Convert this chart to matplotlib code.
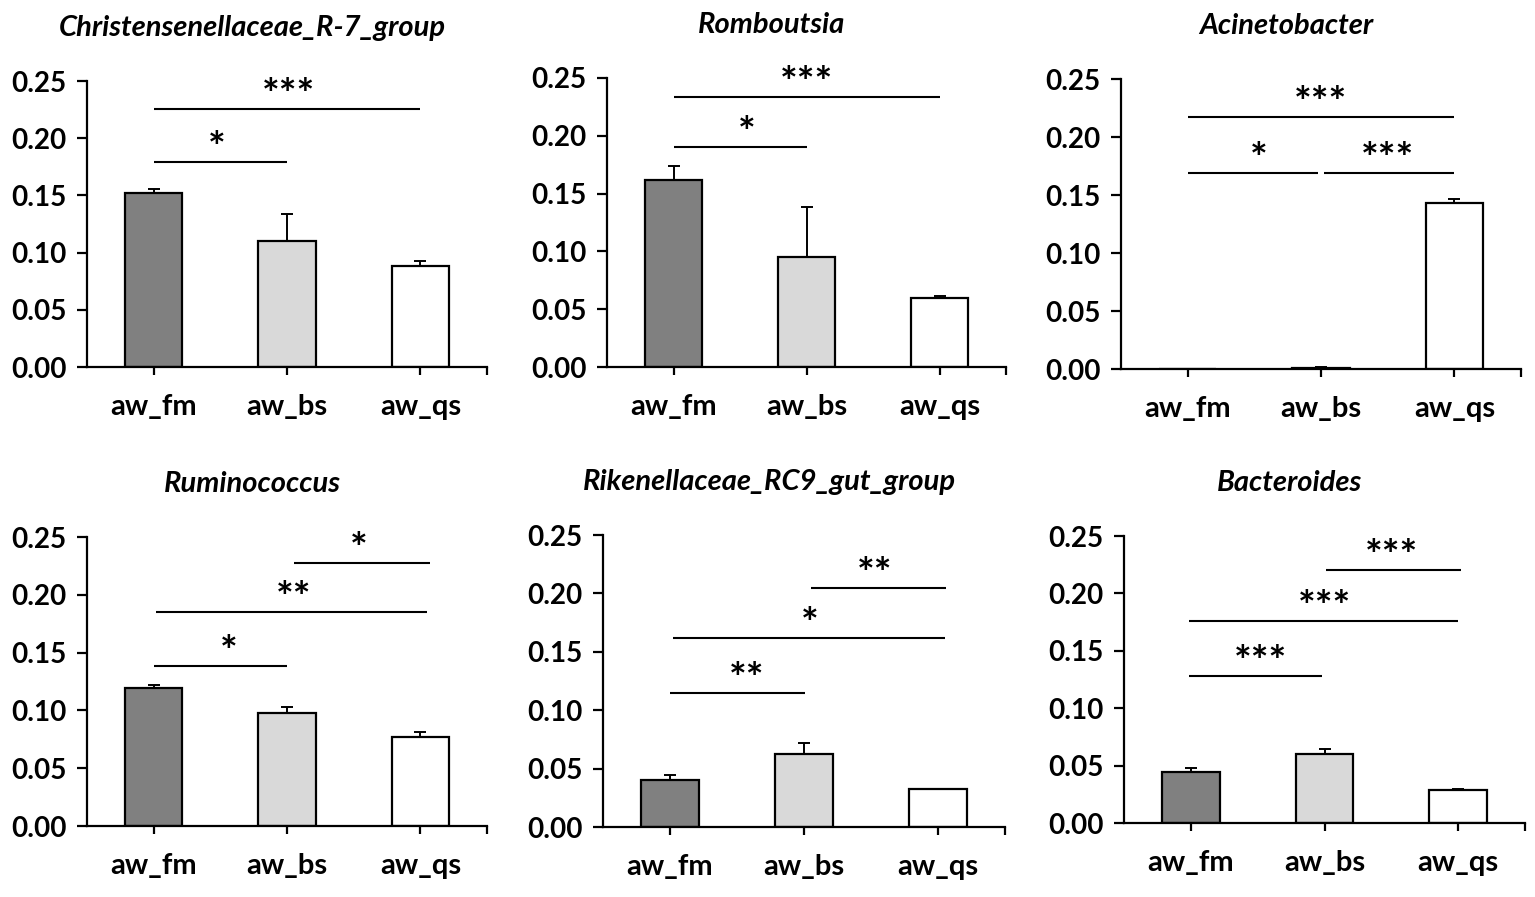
import matplotlib
matplotlib.use("Agg")
import matplotlib.pyplot as plt
import numpy as np

plt.rcParams['font.family'] = ['Lato', 'DejaVu Sans']

groups = ['aw_fm', 'aw_bs', 'aw_qs']
titles = ['Christensenellaceae_R-7_group', 'Romboutsia', 'Acinetobacter',
          'Ruminococcus', 'Rikenellaceae_RC9_gut_group', 'Bacteroides']

christensenellaceae_mean = [0.152, 0.110, 0.088]
christensenellaceae_err = [0.004, 0.024, 0.005]
romboutsia_mean = [0.162, 0.095, 0.060]
romboutsia_err = [0.012, 0.043, 0.0015]
acinetobacter_mean = [0.0, 0.001, 0.143]
acinetobacter_err = [0.0, 0.0005, 0.0035]
ruminococcus_mean = [0.119, 0.098, 0.077]
ruminococcus_err = [0.003, 0.005, 0.004]
rikenellaceae_mean = [0.040, 0.0625, 0.0325]
rikenellaceae_err = [0.0045, 0.0095, 0.0]
bacteroides_mean = [0.044, 0.060, 0.029]
bacteroides_err = [0.004, 0.0045, 0.001]

# significance brackets: (x start, x end, height, label, label x)
christensenellaceae_sig = [(0, 1, 0.179, '*', 0.47), (0, 2, 0.2255, '***', 1.01)]
romboutsia_sig = [(0, 1, 0.190, '*', 0.55), (0, 2, 0.2336, '***', 1.0)]
acinetobacter_sig = [(0, 0.98, 0.169, '*', 0.53), (1.02, 2, 0.169, '***', 1.5),
                     (0, 2, 0.217, '***', 1.0)]
ruminococcus_sig = [(0, 1, 0.138, '*', 0.56), (0.02, 2.05, 0.185, '**', 1.05),
                    (1.05, 2.07, 0.2275, '*', 1.54)]
rikenellaceae_sig = [(0, 1.01, 0.115, '**', 0.57), (0.02, 2.05, 0.162, '*', 1.04),
                     (1.05, 2.06, 0.2046, '**', 1.53)]
bacteroides_sig = [(-0.01, 0.98, 0.128, '***', 0.52), (-0.01, 2.0, 0.176, '***', 1.0),
                   (1.01, 2.02, 0.220, '***', 1.5)]

means = [christensenellaceae_mean, romboutsia_mean, acinetobacter_mean,
         ruminococcus_mean, rikenellaceae_mean, bacteroides_mean]
errs = [christensenellaceae_err, romboutsia_err, acinetobacter_err,
        ruminococcus_err, rikenellaceae_err, bacteroides_err]
sigs = [christensenellaceae_sig, romboutsia_sig, acinetobacter_sig,
        ruminococcus_sig, rikenellaceae_sig, bacteroides_sig]

yticks = [0.00, 0.05, 0.10, 0.15, 0.20, 0.25]
bar_colors = ['#808080', '#d9d9d9', '#ffffff']

W, H = 1535, 897
# pixel layout: left, right, y of 0.00, y of 0.25
boxes = [(87, 487, 367, 81), (607, 1006, 367, 78), (1121, 1521, 369, 79),
         (87, 487, 826, 537), (603, 1005, 827, 535), (1124, 1525, 823, 536)]

fig = plt.figure(figsize=(W / 100, H / 100), dpi=100)
lw = 1.6
for k in range(6):
    l, r, y0, y1 = boxes[k]
    ax = fig.add_axes([l / W, (H - y0) / H, (r - l) / W, (y0 - y1) / H])
    x = np.arange(len(groups))
    ax.bar(x, means[k], width=0.43, color=bar_colors, edgecolor='black',
           linewidth=lw, zorder=2)
    e = np.array(errs[k])
    ax.errorbar(x, means[k], yerr=[np.zeros_like(e), e], fmt='none',
                ecolor='black', elinewidth=1.4, capsize=4, capthick=1.4, zorder=3)
    for (a, b, h, lab, tx) in sigs[k]:
        ax.plot([a, b], [h, h], color='black', lw=1.5, solid_capstyle='butt',
                clip_on=False)
        ax.annotate(lab, xy=(tx, h), xytext=(0, 0), textcoords='offset points',
                    ha='center', va='baseline', fontsize=30, fontweight='bold',
                    annotation_clip=False)
    ax.set_xlim(-0.5, 2.5)
    ax.set_ylim(0, 0.25)
    ax.set_xticks(x)
    ax.set_xticklabels(groups, fontsize=21, fontweight='bold')
    ax.set_xticks([2.5], minor=True)
    ax.set_yticks(yticks)
    ax.set_yticklabels(['%.2f' % v for v in yticks], fontsize=20, fontweight='bold')
    for s in ['top', 'right']:
        ax.spines[s].set_visible(False)
    for s in ['left', 'bottom']:
        ax.spines[s].set_linewidth(lw)
    ax.tick_params(axis='y', length=7.5, width=lw, pad=7, direction='out')
    ax.tick_params(axis='x', which='both', length=5.5, width=lw, pad=14, direction='out')
    ax.annotate(titles[k], xy=(0.413, 1), xycoords='axes fraction',
                xytext=(0, 38), textcoords='offset points', ha='center', va='center',
                fontsize=21, fontweight='bold', fontstyle='italic',
                annotation_clip=False)

fig.savefig('out.png', dpi=100)
